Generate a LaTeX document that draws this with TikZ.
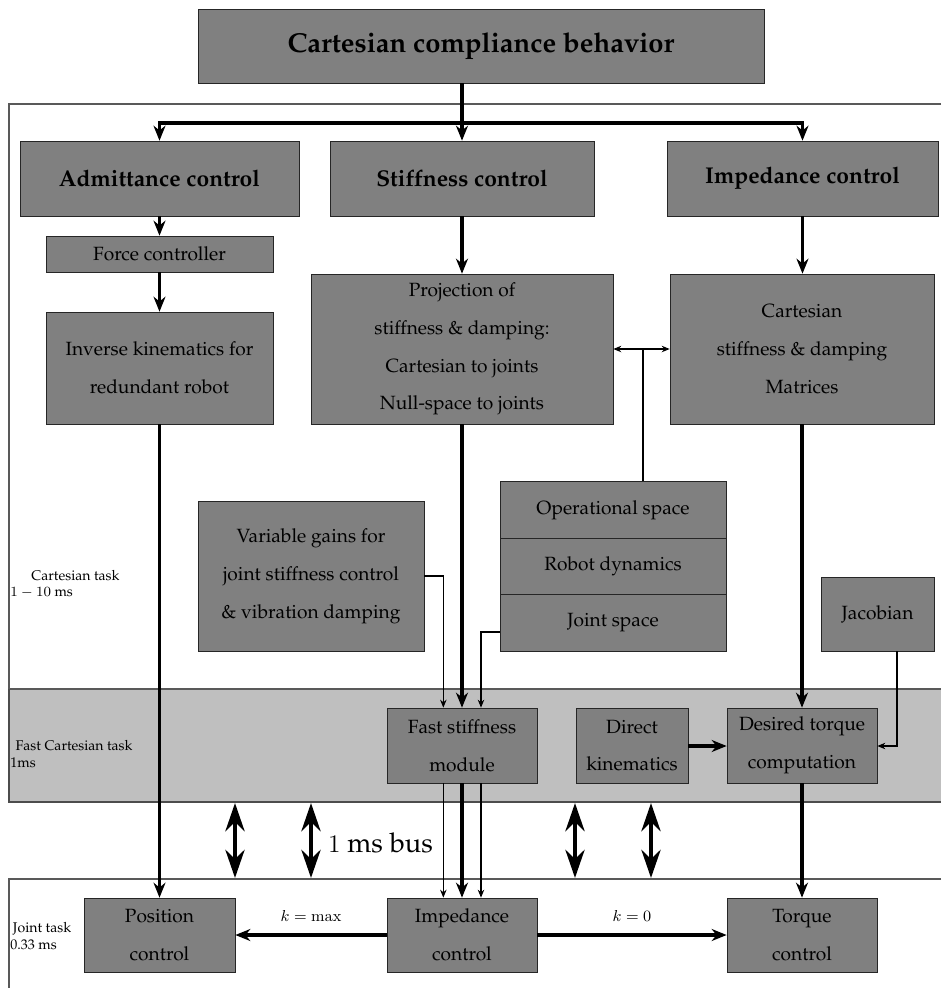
\documentclass[tikz,border=0pt]{standalone}
\usepackage[T1]{fontenc}
\usepackage{palatino}
\usepackage{amsmath}
\usepackage{tikz}
\usetikzlibrary{arrows.meta}
\usetikzlibrary{calc}

\begin{document}
\begin{tikzpicture}[x=0.02cm,y=-0.02cm,
			box/.style={draw=black!85,fill=gray,align=center,inner sep=2pt,font=\fontsize{10.9}{21.5}\selectfont},
			headbox/.style={box,font=\fontsize{13}{15}\selectfont\bfseries},
			fat/.style={line width=2.2pt,-{Stealth[length=3mm,width=2.4mm]}},
			fine/.style={semithick,-{Stealth[length=1.6mm,width=1.3mm]}},
			bus/.style={line width=2.8pt,{Stealth[length=5.6mm,width=3.8mm]}-{Stealth[length=5.6mm,width=3.8mm]}},
			tasklabel/.style={anchor=west,align=left,inner sep=0pt,font=\fontsize{8}{9.5}\selectfont},
			klabel/.style={font=\small}]
			\useasboundingbox (0,0) rectangle (941,988);
			
			% task areas
			\fill[gray!50] (9,689) rectangle (941,802);
			\draw[black!65,semithick] (941,104) -- (9,104) -- (9,689) -- (941,689);
			\draw[black!70,semithick] (9,689) -- (9,802) -- (941,802);
			\draw[black!65,semithick] (941,879) -- (9,879) -- (9,988);
			
			\node[tasklabel] (lcart) at (10,584) {\hspace*{12pt}Cartesian task\\$1-10$ ms};
			\node[tasklabel] (lfast) at (10,754) {\hspace*{3pt}Fast Cartesian task\\1ms};
			\node[tasklabel] (ljoint) at (10,936) {\hspace*{1.5pt}Joint task\\0.33 ms};
			
			% boxes
			\node[box,font=\fontsize{15.6}{18}\selectfont\bfseries,minimum width=11.32cm,minimum height=1.48cm] (ccb) at (481,46) {Cartesian compliance behavior};
			
			\node[headbox,minimum width=5.58cm,minimum height=1.5cm] (adm) at (159.5,178.5) {Admittance control};
			\node[headbox,minimum width=5.28cm,minimum height=1.5cm] (stiff) at (462,178.5) {Stiffness control};
			\node[headbox,minimum width=5.42cm,minimum height=1.5cm] (imp) at (802.5,178.5) {Impedance control};
			
			\node[box,minimum width=4.54cm,minimum height=0.72cm] (force) at (159.5,254) {Force controller};
			\node[box,minimum width=4.54cm,minimum height=2.24cm] (ik) at (159.5,368) {Inverse kinematics for\\redundant robot};
			\node[box,minimum width=6.04cm,minimum height=3.0cm] (proj) at (462,349) {Projection of\\stiffness \& damping:\\Cartesian to joints\\Null-space to joints};
			\node[box,minimum width=5.28cm,minimum height=3.0cm] (cstiff) at (802,349) {Cartesian\\stiffness \& damping\\Matrices};
			
			\node[box,minimum width=4.52cm,minimum height=3.0cm] (gains) at (311,576) {Variable gains for\\joint stiffness control\\\& vibration damping};
			\node[box,minimum width=4.52cm,minimum height=1.13cm] (opspace) at (613,510) {Operational space};
			\node[box,minimum width=4.52cm,minimum height=1.13cm] (dyn) at (613,566.5) {Robot dynamics};
			\node[box,minimum width=4.52cm,minimum height=1.13cm] (jspace) at (613,623) {Joint space};
			\node[box,minimum width=2.26cm,minimum height=1.48cm] (jac) at (877.5,614) {Jacobian};
			
			\node[box,minimum width=3.0cm,minimum height=1.5cm] (fast) at (462,745.5) {Fast stiffness\\module};
			\node[box,minimum width=2.24cm,minimum height=1.5cm] (dirkin) at (632,745.5) {Direct\\kinematics};
			\node[box,minimum width=3.0cm,minimum height=1.5cm] (dtorque) at (802,745.5) {Desired torque\\computation};
			
			\node[box,minimum width=3.02cm,minimum height=1.48cm] (pos) at (159.5,935) {Position\\control};
			\node[box,minimum width=3.0cm,minimum height=1.48cm] (jimp) at (462,935) {Impedance\\control};
			\node[box,minimum width=3.0cm,minimum height=1.48cm] (torque) at (802,935) {Torque\\control};
			
			% connectors
			\coordinate (split) at (462,123);
			\draw[line width=2.2pt] (ccb.south -| split) -- (split);
			\draw[fat] (split) -| (adm.north);
			\draw[fat] (split) -- (stiff.north);
			\draw[fat] (split) -| (imp.north);
			
			\draw[fat] (adm) -- (force);
			\draw[fat] (force) -- (ik);
			\draw[fat] (ik) -- (pos);
			\draw[fat] (stiff) -- (proj);
			\draw[fat] (imp) -- (cstiff.north -| imp);
			\draw[fat] (proj) -- (fast);
			\draw[fat] (cstiff.south -| dtorque) -- (dtorque);
			
			\draw[semithick,{Stealth[length=1.6mm,width=1.3mm]}-{Stealth[length=1.6mm,width=1.3mm]}] (proj.east) -- (proj.east -| cstiff.west);
			\coordinate (tap) at (643,349);
			\draw[semithick] (opspace.north -| tap) -- (tap);
			
			\draw[fine] (gains.east) -- ++(19,0) coordinate (g1) -- (g1 |- fast.north);
			\draw[fine] (jspace.west |- 0,632) -- (481,632) coordinate (j1) -- (j1 |- fast.north);
			\draw[fine] (jac.south -| 897,0) -- (897,746) -- (dtorque.east |- 0,746);
			\draw[fat] (dirkin.east |- 0,746) -- (dtorque.west |- 0,746);
			
			\draw[fat] (fast) -- (jimp);
			\draw[fine] (fast.south -| g1) -- (jimp.north -| g1);
			\draw[fine] (fast.south -| j1) -- (jimp.north -| j1);
			\draw[fat] (dtorque) -- (torque);
			
			\draw[fat] (jimp.west) -- node[klabel,above=3pt] (kmax) {$k=\max$} (pos.east);
			\draw[fat] (jimp.east) -- node[klabel,above=3pt] (kzero) {$k=0$} (torque.west);
			
			% bus
			\foreach \bx in {235,311,575,651}
				\draw[bus] (\bx,803) -- (\bx,878);
			\node[anchor=west,font=\fontsize{15.5}{18}\selectfont] (buslabel) at (322,843) {$1$ ms bus};
		\end{tikzpicture}
\end{document}
